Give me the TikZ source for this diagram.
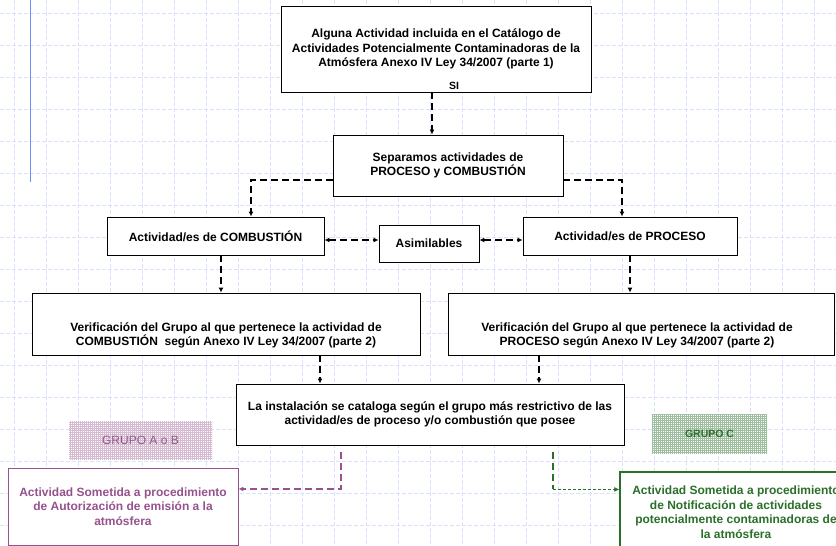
\documentclass[tikz,border=0pt]{standalone}
\usepackage{fontspec}
\setmainfont{Liberation Sans}
\usepackage{xcolor}
\definecolor{Col1}{RGB}{150,82,140}
\definecolor{Col2}{RGB}{42,112,42}
\definecolor{Col3}{RGB}{218,225,252}
\definecolor{Col4}{RGB}{110,140,250}
\usetikzlibrary{arrows.meta}
\usetikzlibrary{patterns.meta}
\tikzstyle{Box}=[draw=black,fill=white,line width=.9pt,align=center,
inner sep=0pt,font=\fontsize{12}{14.5}\selectfont\bfseries]
\tikzstyle{Edge}=[draw=black,line width=1.4pt,dash pattern=on 7pt off 4pt,
-{Latex[length=5pt,width=5pt]}]
\tikzstyle{Both}=[Edge,{Latex[length=5pt,width=5pt]}-{Latex[length=5pt,width=5pt]}]
\tikzstyle{Thin}=[draw=Col2,line width=.8pt,dash pattern=on 3pt off 2pt,
-{Latex[length=5pt,width=5pt]}]
\tikzstyle{GridLine}=[draw=Col3,line width=.5pt,dash pattern=on 4pt off 2pt]
\tikzstyle{Tag}=[inner sep=0pt,font=\fontsize{12}{14.5}\selectfont]

\begin{document}
\begin{tikzpicture}[x=1pt,y=-1pt]
        \useasboundingbox (0,0) rectangle (836,546);
        \fill[white] (0,0) rectangle (836,546);
        % background grid
        \foreach \x in {14.5,46.5,...,836} \draw[GridLine] (\x,0)--(\x,546);
        \foreach \y in {13.5,45.5,...,546} \draw[GridLine] (0,\y)--(836,\y);
        \draw[Col4,line width=1pt] (30.5,0)--(30.5,182);
        % boxes
        \node[Box,minimum width=310,minimum height=86](top)at(436,49)
            {Alguna Actividad incluida en el Catálogo de\\
             Actividades Potencialmente Contaminadoras de la\\
             Atmósfera Anexo IV Ley 34/2007 (parte 1)};
        \node[Tag,font=\fontsize{10.5}{12}\selectfont\bfseries](si)at(454,86){SI};
        \node[Box,minimum width=230,minimum height=61](sep)at(448,165.5)
            {Separamos actividades de\\PROCESO y COMBUSTIÓN};
        \node[Box,minimum width=217,minimum height=38](comb)at(215.5,236)
            {Actividad/es de COMBUSTIÓN};
        \node[Box,minimum width=100,minimum height=37](asim)at(429,243.5)
            {Asimilables};
        \node[Box,minimum width=214,minimum height=38](proc)at(630,236)
            {Actividad/es de PROCESO};
        \node[Box,minimum width=388,minimum height=62](verifC)at(226,324)
            {};
        \node[Tag,font=\fontsize{12}{14.5}\selectfont\bfseries,align=center]
            (verifCtext)at(226,335.5)
            {Verificación del Grupo al que pertenece la actividad de\\
             COMBUSTIÓN\ \ según Anexo IV Ley 34/2007 (parte 2)};
        \node[Box,minimum width=386,minimum height=62](verifP)at(641,324)
            {};
        \node[Tag,font=\fontsize{12}{14.5}\selectfont\bfseries,align=center]
            (verifPtext)at(637,335.5)
            {Verificación del Grupo al que pertenece la actividad de\\
             PROCESO según Anexo IV Ley 34/2007 (parte 2)};
        \node[Box,minimum width=388,minimum height=61](inst)at(430,414.5)
            {La instalación se cataloga según el grupo más restrictivo de las\\
             actividad/es de proceso y/o combustión que posee};
        \node[Tag,minimum width=143,minimum height=38,text=Col1!85!gray,
            pattern={Hatch[distance=2pt,line width=.5pt]},pattern color=Col1!40]
            (grpAB)at(140.5,440){GRUPO A o B};
        \node[Tag,minimum width=115,minimum height=39,text=Col2,
            font=\fontsize{10.5}{12}\selectfont\bfseries,
            pattern={Hatch[distance=2pt,line width=.5pt]},pattern color=Col2!45]
            (grpC)at(709.5,433.5){GRUPO C};
        \node[Box,draw=Col1,text=Col1,minimum width=230,minimum height=77]
            (autor)at(123,506.5)
            {Actividad Sometida a procedimiento\\
             de Autorización de emisión a la\\atmósfera};
        \node[Box,draw=Col2,line width=1.4pt,text=Col2,minimum width=232,
            minimum height=80](notif)at(736,512)
            {Actividad Sometida a procedimiento\\
             de Notificación de actividades\\
             potencialmente contaminadoras de\\la atmósfera};
        % connectors
        \draw[Edge]([xshift=-4pt]top.south)--([xshift=-4pt]top.south|-sep.north);
        \draw[Edge]([yshift=-14.5pt]sep.west)-|([xshift=35.5pt]comb.north);
        \draw[Edge]([yshift=-14.5pt]sep.east)-|([xshift=-8pt]proc.north);
        \draw[Both]([yshift=-4pt]comb.east)--([yshift=-4pt]comb.east-|asim.west);
        \draw[Both]([yshift=3.5pt]asim.east)--([yshift=3.5pt]asim.east-|proc.west);
        \draw[Edge]([xshift=5.5pt]comb.south)--([xshift=5.5pt]comb.south|-verifC.north);
        \draw[Edge](proc.south)--(proc.south|-verifP.north);
        \draw[Edge]([xshift=94pt]verifC.south)--([xshift=94pt]verifC.south|-inst.north);
        \draw[Edge]([xshift=-102pt]verifP.south)--([xshift=-102pt]verifP.south|-inst.north);
        \draw[Edge,draw=Col1]
            ([xshift=-89pt,yshift=-7pt]inst.south)|-([yshift=17.5pt]autor.east);
        \coordinate(bend)at([xshift=123pt,yshift=-44pt]inst.south);
        \draw[Edge,draw=Col2,-]([xshift=123pt,yshift=-7pt]inst.south)--(bend);
        \draw[Thin](bend)--(bend-|notif.west);
    \end{tikzpicture}
\end{document}
